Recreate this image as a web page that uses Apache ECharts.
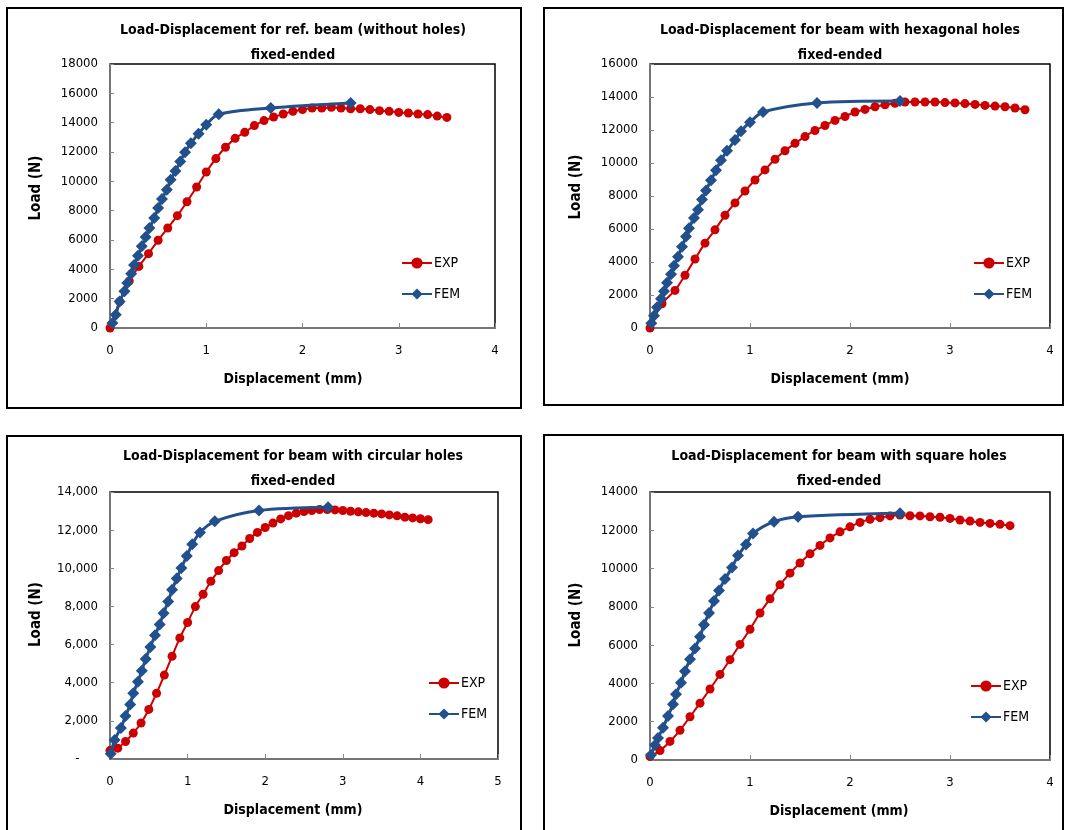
<!DOCTYPE html>
<html>
<head>
<meta charset="utf-8">
<script src="https://cdn.jsdelivr.net/npm/echarts@6/dist/echarts.min.js"></script>
<style>
html, body { margin: 0; padding: 0; background: #fff; }
#main { width: 1065px; height: 830px; }
</style>
</head>
<body>
<div id="main"></div>
<script>
// ref. beam (without holes)
const expDisp1 = [0, 0.1, 0.2, 0.3, 0.4, 0.5, 0.6, 0.7, 0.8, 0.9, 1.0, 1.1, 1.2, 1.3, 1.4, 1.5, 1.6, 1.7, 1.8, 1.9, 2.0, 2.1, 2.2, 2.3, 2.4, 2.5, 2.6, 2.7, 2.8, 2.9, 3.0, 3.1, 3.2, 3.3, 3.4, 3.5]
const expLoad1 = [0, 1800, 3200, 4200, 5070, 5980, 6820, 7660, 8610, 9610, 10640, 11550, 12320, 12930, 13340, 13800, 14140, 14390, 14590, 14770, 14890, 15000, 15000, 15050, 15000, 14950, 14950, 14890, 14820, 14770, 14700, 14660, 14590, 14550, 14450, 14360]
const femDisp1 = [0.025, 0.06, 0.1, 0.15, 0.18, 0.22, 0.25, 0.29, 0.33, 0.37, 0.41, 0.46, 0.5, 0.54, 0.59, 0.63, 0.68, 0.73, 0.78, 0.84, 0.92, 1.0, 1.13, 1.67, 2.5]
const femLoad1 = [340, 900, 1800, 2500, 3070, 3700, 4300, 4930, 5570, 6200, 6820, 7500, 8180, 8800, 9430, 10100, 10700, 11360, 11980, 12600, 13250, 13860, 14580, 15000, 15340]

// hexagonal holes
const expDisp2 = [0, 0.12, 0.25, 0.35, 0.45, 0.55, 0.65, 0.75, 0.85, 0.95, 1.05, 1.15, 1.25, 1.35, 1.45, 1.55, 1.65, 1.75, 1.85, 1.95, 2.05, 2.15, 2.25, 2.35, 2.45, 2.55, 2.65, 2.75, 2.85, 2.95, 3.05, 3.15, 3.25, 3.35, 3.45, 3.55, 3.65, 3.75]
const expLoad2 = [0, 1470, 2280, 3200, 4180, 5140, 5950, 6830, 7580, 8300, 8970, 9580, 10230, 10740, 11190, 11600, 11970, 12270, 12580, 12820, 13090, 13250, 13410, 13530, 13620, 13700, 13700, 13700, 13700, 13660, 13640, 13600, 13550, 13490, 13450, 13410, 13330, 13230]
const femDisp2 = [0.013, 0.04, 0.07, 0.11, 0.14, 0.17, 0.21, 0.24, 0.28, 0.32, 0.36, 0.39, 0.44, 0.48, 0.52, 0.56, 0.61, 0.66, 0.71, 0.77, 0.85, 0.91, 1.0, 1.13, 1.67, 2.5]
const femLoad2 = [290, 750, 1260, 1770, 2220, 2750, 3260, 3770, 4320, 4930, 5540, 6050, 6670, 7170, 7790, 8340, 8950, 9560, 10170, 10740, 11390, 11920, 12470, 13090, 13640, 13760]

// circular holes
const expDisp3 = [0, 0.1, 0.2, 0.3, 0.4, 0.5, 0.6, 0.7, 0.8, 0.9, 1.0, 1.1, 1.2, 1.3, 1.4, 1.5, 1.6, 1.7, 1.8, 1.9, 2.0, 2.1, 2.2, 2.3, 2.4, 2.5, 2.6, 2.7, 2.8, 2.9, 3.0, 3.1, 3.2, 3.3, 3.4, 3.5, 3.6, 3.7, 3.8, 3.9, 4.0, 4.1]
const expLoad3 = [440, 570, 920, 1360, 1890, 2600, 3450, 4400, 5390, 6350, 7160, 7990, 8640, 9320, 9880, 10410, 10820, 11170, 11560, 11880, 12140, 12370, 12590, 12760, 12890, 12980, 13030, 13080, 13080, 13060, 13030, 12990, 12960, 12920, 12890, 12850, 12800, 12750, 12680, 12640, 12600, 12550]
const femDisp3 = [0.01, 0.06, 0.14, 0.2, 0.26, 0.3, 0.36, 0.41, 0.46, 0.52, 0.58, 0.64, 0.69, 0.75, 0.8, 0.86, 0.92, 0.99, 1.06, 1.16, 1.35, 1.92, 2.81]
const femLoad3 = [270, 1000, 1630, 2250, 2860, 3450, 4050, 4630, 5250, 5870, 6490, 7050, 7640, 8260, 8870, 9460, 10020, 10640, 11260, 11880, 12460, 13030, 13200]

// square holes
const expDisp4 = [0, 0.1, 0.2, 0.3, 0.4, 0.5, 0.6, 0.7, 0.8, 0.9, 1.0, 1.1, 1.2, 1.3, 1.4, 1.5, 1.6, 1.7, 1.8, 1.9, 2.0, 2.1, 2.2, 2.3, 2.4, 2.5, 2.6, 2.7, 2.8, 2.9, 3.0, 3.1, 3.2, 3.3, 3.4, 3.5, 3.6]
const expLoad4 = [180, 490, 970, 1550, 2260, 2970, 3710, 4470, 5240, 6040, 6830, 7680, 8420, 9150, 9760, 10290, 10770, 11210, 11600, 11920, 12180, 12410, 12570, 12660, 12750, 12800, 12760, 12750, 12710, 12680, 12620, 12540, 12480, 12410, 12360, 12310, 12240]
const femDisp4 = [0.01, 0.05, 0.08, 0.13, 0.18, 0.23, 0.26, 0.31, 0.35, 0.4, 0.45, 0.5, 0.54, 0.59, 0.64, 0.69, 0.75, 0.82, 0.88, 0.96, 1.03, 1.24, 1.48, 2.5]
const femLoad4 = [260, 790, 1150, 1680, 2300, 2910, 3440, 4030, 4630, 5260, 5830, 6440, 7060, 7680, 8300, 8860, 9450, 10060, 10680, 11260, 11830, 12450, 12710, 12890]

const titles = [
  'Load-Displacement for ref. beam (without holes)\nfixed-ended',
  'Load-Displacement for beam with hexagonal holes\nfixed-ended',
  'Load-Displacement for beam with circular holes\nfixed-ended',
  'Load-Displacement for beam with square holes\nfixed-ended'
]
const xMax = [4, 4, 5, 4]
const yMax = [18000, 16000, 14000, 14000]

const FONT = '"Liberation Sans Narrow", "DejaVu Sans Condensed", "Noto Sans", sans-serif'
const EXP_COLOR = '#cc0000'
const FEM_COLOR = '#22508c'

function zip (xs, ys) {
  return xs.map(function (x, i) { return [x, ys[i]] })
}

const expSets = [zip(expDisp1, expLoad1), zip(expDisp2, expLoad2), zip(expDisp3, expLoad3), zip(expDisp4, expLoad4)]
const femSets = [zip(femDisp1, femLoad1), zip(femDisp2, femLoad2), zip(femDisp3, femLoad3), zip(femDisp4, femLoad4)]

// layout of the four panels (pixels)
const boxes = [
  { frame: [7, 8, 514, 400], grid: [110, 64, 385, 264], titleX: 293, titleY: 18, legend: [401, 256], yName: 8 },
  { frame: [544, 8, 519, 397], grid: [650, 64, 400, 264], titleX: 840, titleY: 18, legend: [973, 256], yName: 9 },
  { frame: [7, 436, 514, 400], grid: [110, 492, 388, 267], titleX: 293, titleY: 444, legend: [428, 676], yName: 11 },
  { frame: [544, 435, 519, 400], grid: [650, 492, 400, 268], titleX: 839, titleY: 444, legend: [970, 679], yName: 11 }
]

const myChart = echarts.init(document.getElementById('main'))

const option = {
  backgroundColor: '#fff',
  animation: false,
  textStyle: { fontFamily: FONT },
  title: [],
  legend: [],
  grid: [],
  xAxis: [],
  yAxis: [],
  series: [],
  graphic: []
}

boxes.forEach(function (b, i) {
  const g = b.grid
  option.graphic.push({
    type: 'rect',
    shape: { x: b.frame[0], y: b.frame[1], width: b.frame[2], height: b.frame[3] },
    style: { fill: 'none', stroke: '#000', lineWidth: 2 },
    z: -1
  })
  option.title.push({
    text: titles[i],
    left: b.titleX,
    top: b.titleY,
    textAlign: 'center',
    padding: 0,
    textStyle: { fontFamily: FONT, fontSize: 14, fontWeight: 'bold', color: '#000', lineHeight: 25 }
  })
  option.grid.push({
    left: g[0], top: g[1], width: g[2], height: g[3],
    show: true, borderColor: '#000', borderWidth: 1.5, backgroundColor: '#fff'
  })
  // Excel centres the axis title on the chart area, not on the plot
  const shift = (g[0] + g[2] / 2) - b.titleX
  option.xAxis.push({
    type: 'value',
    gridIndex: i,
    min: 0,
    max: xMax[i],
    interval: 1,
    name: 'Displacement (mm)',
    nameLocation: 'middle',
    nameGap: 44,
    nameTextStyle: { fontFamily: FONT, fontSize: 14, fontWeight: 'bold', color: '#000', padding: [0, shift * 2, 0, 0] },
    axisLine: { show: true, lineStyle: { color: '#888', width: 1.5 } },
    axisTick: { show: true, inside: true, length: 5, lineStyle: { color: '#888' } },
    axisLabel: { fontFamily: FONT, fontSize: 13, color: '#000', margin: 16 },
    splitLine: { show: false }
  })
  option.yAxis.push({
    type: 'value',
    gridIndex: i,
    min: 0,
    max: yMax[i],
    interval: 2000,
    name: 'Load (N)',
    nameLocation: 'middle',
    nameGap: 66,
    nameTextStyle: { fontFamily: FONT, fontSize: 15, fontWeight: 'bold', color: '#000', padding: [0, 0, 0, b.yName * 2] },
    axisLine: { show: true, lineStyle: { color: '#888', width: 1.5 } },
    axisTick: { show: true, inside: true, length: 4, lineStyle: { color: '#888' } },
    axisLabel: {
      fontFamily: FONT,
      fontSize: 13,
      color: '#000',
      margin: 12,
      formatter: i === 2
        ? function (v) { return v === 0 ? '-     ' : v.toLocaleString('en-US') }
        : function (v) { return String(v) }
    },
    splitLine: { show: false }
  })
  option.legend.push({
    orient: 'vertical',
    left: b.legend[0],
    top: b.legend[1],
    itemWidth: 30,
    itemHeight: 14,
    itemGap: 17,
    padding: 0,
    data: ['EXP', 'FEM'],
    textStyle: { fontFamily: FONT, fontSize: 14, color: '#000', padding: [0, 0, 0, -3] }
  })
  option.series.push({
    name: 'EXP',
    type: 'line',
    xAxisIndex: i,
    yAxisIndex: i,
    data: expSets[i],
    smooth: 0.3,
    symbol: 'circle',
    symbolSize: 9,
    showAllSymbol: true,
    lineStyle: { color: EXP_COLOR, width: 2 },
    itemStyle: { color: EXP_COLOR },
    z: 2
  })
  option.series.push({
    name: 'FEM',
    type: 'line',
    xAxisIndex: i,
    yAxisIndex: i,
    data: femSets[i],
    smooth: 0.3,
    symbol: 'diamond',
    symbolSize: 12,
    showAllSymbol: true,
    lineStyle: { color: FEM_COLOR, width: 3 },
    itemStyle: { color: FEM_COLOR },
    z: 3
  })
})

myChart.setOption(option)
</script>
</body>
</html>
